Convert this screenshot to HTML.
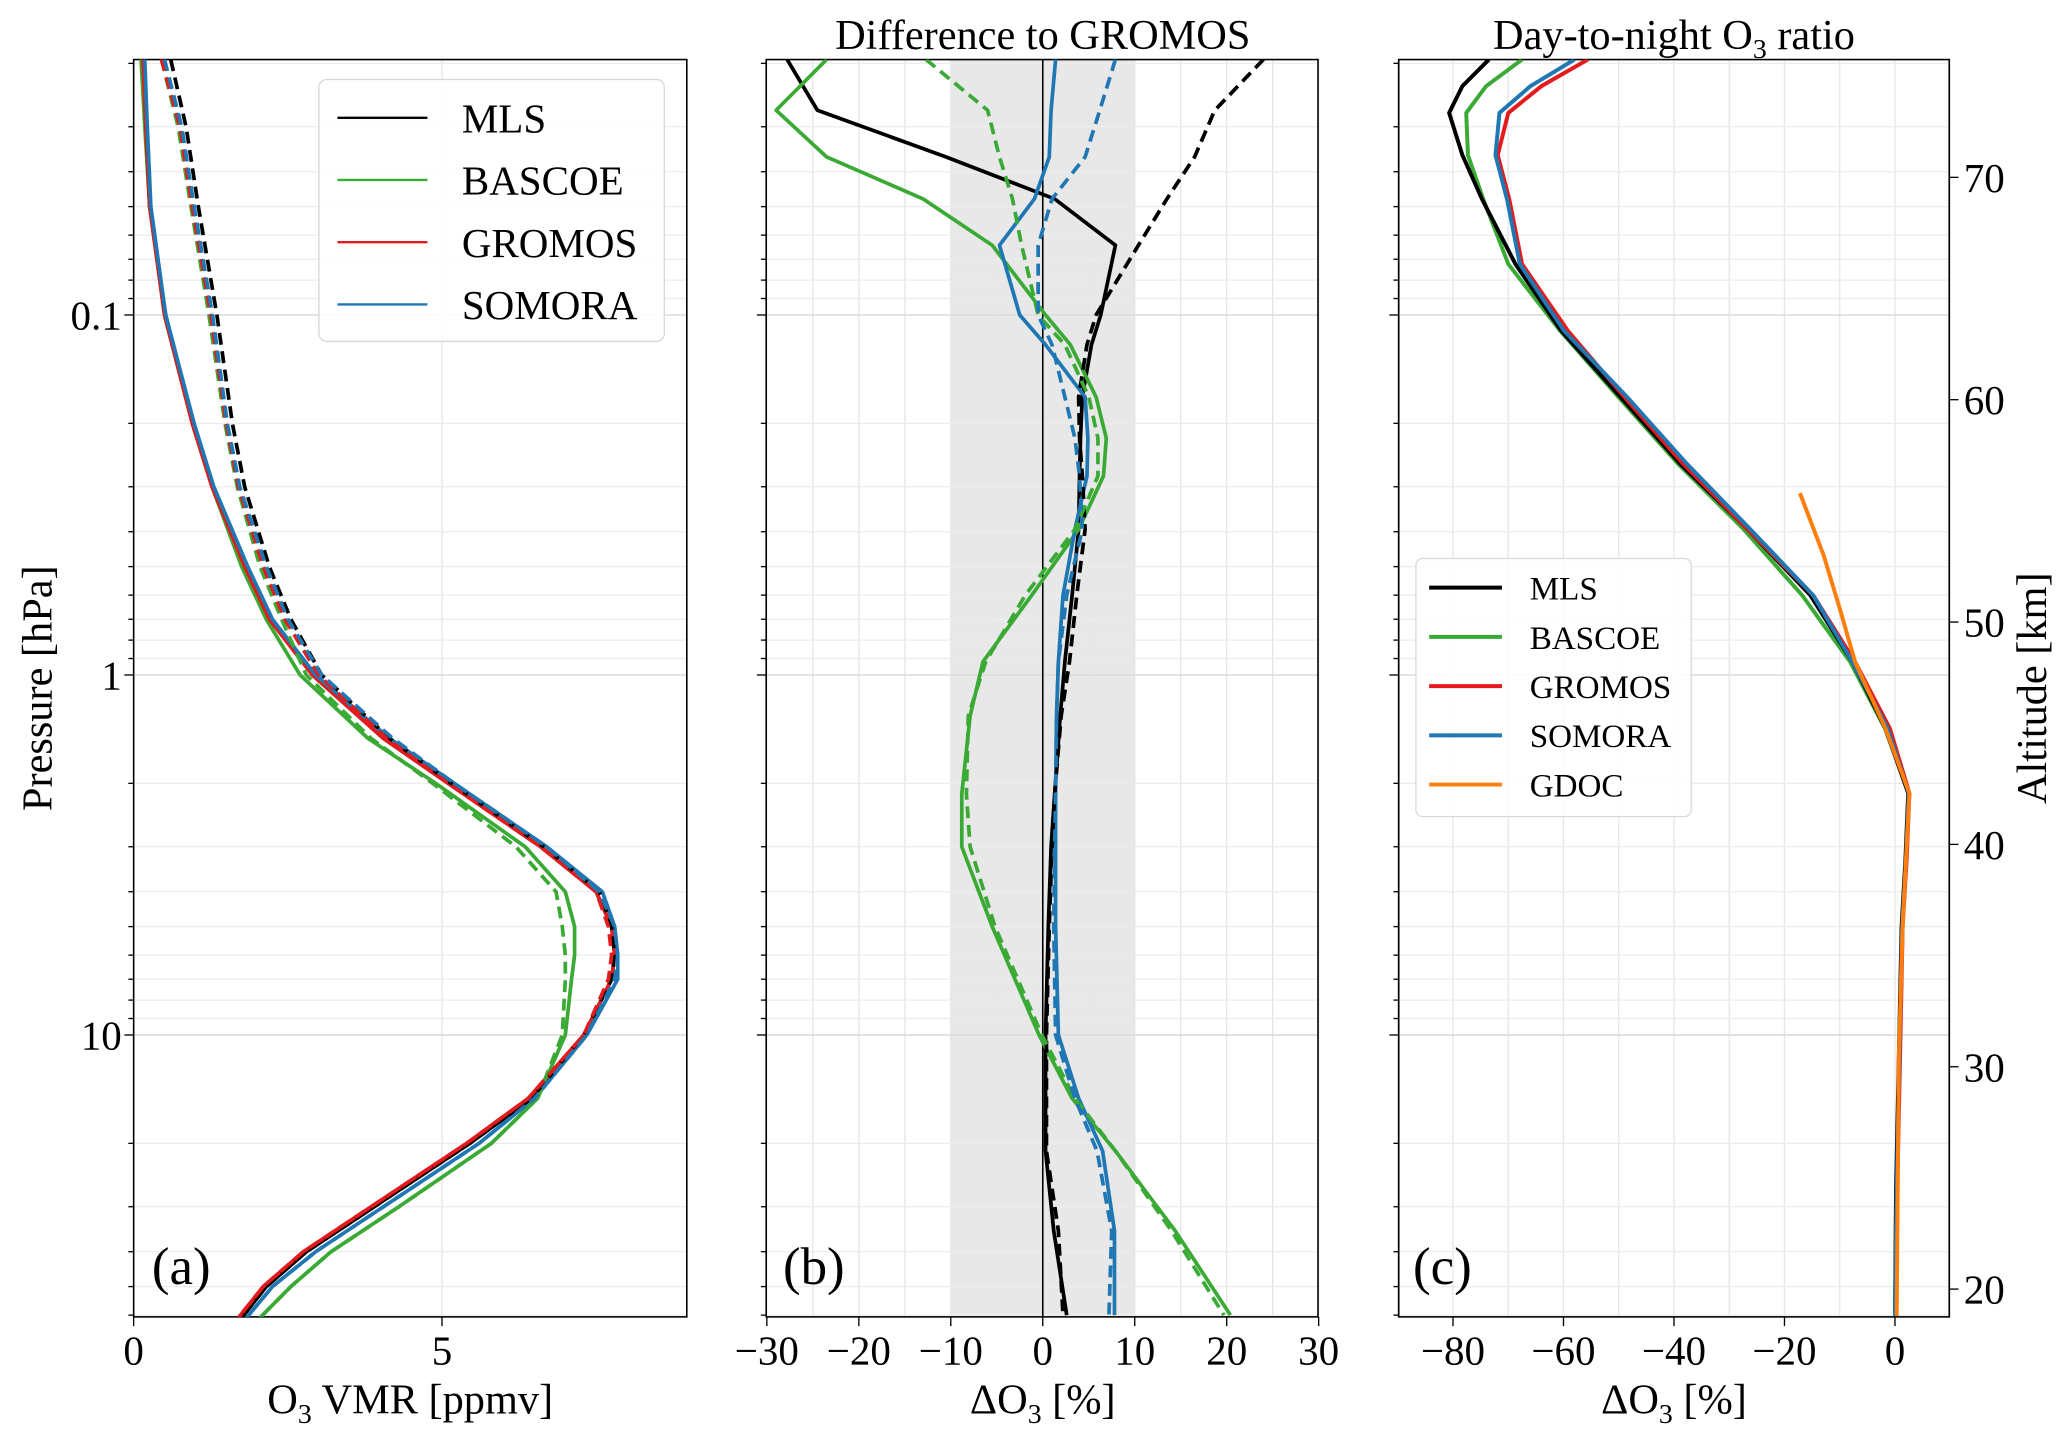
<!DOCTYPE html>
<html><head><meta charset="utf-8">
<style>
html,body{margin:0;padding:0;background:#fff;}
svg{display:block;font-family:"Liberation Serif",serif;}
</style></head>
<body>
<svg id="fig" width="2067" height="1436" viewBox="0 0 1562 1085" preserveAspectRatio="none" xmlns="http://www.w3.org/2000/svg">
<rect width="1562" height="1085" fill="#fff"/>
</svg>
<script>
// ---------- data ----------
// Panel (a): pressure levels [hPa] and O3 VMR [ppmv]
const pA = [0.0195,0.03,0.05,0.1,0.2,0.3,0.5,0.7,1,1.5,2,3,4,5,6,7,10,15,20,30,40,50,61];
const aGromos = [0.15,0.2,0.26,0.5,0.95,1.27,1.8,2.2,2.9,4.05,5.1,6.6,7.5,7.75,7.8,7.75,7.3,6.4,5.4,3.85,2.75,2.1,1.7];
const aSomora = [0.18,0.22,0.28,0.52,0.98,1.3,1.85,2.25,2.95,4.15,5.2,6.7,7.6,7.8,7.85,7.85,7.35,6.5,5.6,4.05,2.95,2.25,1.83];
const aBascoe = [0.12,0.18,0.26,0.5,0.95,1.27,1.75,2.15,2.7,3.8,4.9,6.35,7.0,7.15,7.15,7.1,7.0,6.55,5.8,4.3,3.2,2.55,2.05];
const aMls     = [0.16,0.2,0.26,0.52,0.97,1.28,1.82,2.22,2.9,4.05,5.1,6.6,7.5,7.75,7.8,7.75,7.3,6.45,5.45,3.9,2.8,2.15,1.75];
const aGromosN = [0.45,0.75,0.95,1.25,1.5,1.7,2.1,2.45,3.0,4.1,5.1,6.6,7.5,7.7,7.75,7.7,7.3,6.4,5.4,3.85,2.75,2.1,1.7];
const aSomoraN = [0.5,0.78,0.98,1.28,1.52,1.72,2.15,2.5,3.05,4.2,5.2,6.7,7.55,7.8,7.85,7.8,7.35,6.5,5.6,4.05,2.95,2.25,1.83];
const aBascoeN = [0.45,0.72,0.93,1.22,1.48,1.68,2.05,2.4,2.8,3.85,4.85,6.2,6.85,6.95,7.0,7.0,6.95,6.55,5.8,4.3,3.2,2.55,2.05];
const aMlsN    = [0.6,0.85,1.05,1.35,1.6,1.8,2.2,2.55,3.05,4.15,5.15,6.65,7.55,7.75,7.8,7.75,7.3,6.45,5.45,3.9,2.8,2.15,1.75];
// Panel (b): pressure levels and differences [%]
const pB = [0.0195,0.027,0.0364,0.0476,0.064,0.1,0.121,0.169,0.22,0.28,0.394,0.6,0.919,1.3,2.14,3.0,5.0,10,15,21,35,60];
const bMls     = [-27.8,-24.5,-10.5,1.3,7.9,6.3,5.3,4.3,4.1,4.0,3.9,3.2,2.4,1.9,1.3,0.9,0.6,0.3,0.3,0.3,1.2,2.6];
const bMlsN    = [24,18.7,16.5,13.5,10.4,5.8,4.8,3.9,4.0,4.3,4.6,3.7,2.9,2.0,1.3,1.0,0.7,0.4,0.4,0.4,1.7,2.2];
const bBascoe  = [-23.5,-29,-23.5,-13,-5.5,0.3,3.0,5.8,6.9,6.6,3.9,-1.2,-6.5,-7.9,-8.8,-8.8,-5.5,-0.4,3.2,7.9,14.4,20.4];
const bBascoeN = [-12.7,-6,-4.7,-3.3,-2.3,-0.5,2.4,5.0,6.0,6.0,3.5,-1.9,-6.2,-8.1,-8.3,-7.9,-5.2,-0.1,3.5,7.9,14,19.7];
const bSomora  = [1.4,0.9,0.7,-0.9,-4.7,-2.5,0.3,4.6,4.9,4.8,3.5,2.2,1.7,1.5,1.4,1.4,1.4,1.7,3.9,6.5,7.8,7.8];
const bSomoraN = [7.9,6.2,4.6,1.0,-0.5,-0.5,1.0,2.4,3.5,4.0,4.3,2.6,1.7,1.5,1.4,1.3,1.2,1.4,3.5,5.9,7.5,7.2];
// Panel (c): altitude [km] and day-to-night ratio [%]
const zC = [75.3,74.1,72.9,71,69,66.1,63.1,60.1,57.1,54.2,51.2,48.2,45.2,42.3,39.3,36.3,30.4,24.4,18.8];
const cMls    = [-73.5,-78.3,-80.7,-78.3,-74.7,-68.7,-60.4,-49.6,-38.8,-26.8,-15.3,-7.7,-1.7,2.4,1.9,1.2,0.7,0.2,0.0];
const cBascoe = [-67.5,-74,-77.6,-77.3,-74.5,-70,-60.6,-50,-39.2,-27.5,-16.8,-8.1,-1.8,2.5,2.0,1.3,0.8,0.3,0.1];
const cGromos = [-55.6,-64,-70,-71.9,-69.8,-67.5,-59.2,-48.9,-38.3,-26.8,-14.8,-7.2,-0.9,2.6,2.1,1.4,0.9,0.4,0.2];
const cSomora = [-58,-66,-71.6,-72.3,-70.2,-67.9,-59.9,-48.4,-37.6,-26.3,-14.8,-7.7,-1.3,2.5,2.0,1.3,0.8,0.3,0.0];
const zG = [55.8,53,50.6,48.2,45.2,42.3,36.3,30.4,18.8];
const cGdoc = [-17.2,-12.9,-10,-7.2,-1.7,2.6,1.4,0.7,0.3];
const tickA = [0,5];
const tickB = [-30,-20,-10,0,10,20,30];
const tickC = [-80,-60,-40,-20,0];
const tickP = [0.1,1,10];
const tickZ = [20,30,40,50,60,70];

// ---------- layout ----------
const svg = document.getElementById('fig');
const NS = 'http://www.w3.org/2000/svg';
const TOP = 45, BOT = 995;
const panels = {a:[101,519], b:[579,996], c:[1057,1473]};
const yP = p => 510 + 272*Math.log10(p);
const yZ = z => 974 - (z-20)*16.8;
const xA = v => 101 + v*46.6;
const xB = v => 788 + v*6.95;
const xC = v => 1432 + v*4.175;
const C = {black:'#000', green:'#3aaa35', red:'#e41a1c', blue:'#1f77b4', orange:'#ff7f0e'};

function el(tag, attrs, parent){const e=document.createElementNS(NS,tag);for(const k in attrs)e.setAttribute(k,attrs[k]);(parent||svg).appendChild(e);return e;}
function txt(s, x, y, size, anchor, parent){const t=el('text',{x:x,y:y,'font-size':size,'text-anchor':anchor||'middle',fill:'#000'},parent);t.textContent=s;return t;}

function clipFor(id,x0,x1){const d=el('clipPath',{id:id});el('rect',{x:x0,y:TOP,width:x1-x0,height:BOT-TOP},d);}
clipFor('ca',101,519);clipFor('cb',579,996);clipFor('cc',1057,1473);

// grids
function pressureGrid(x0,x1,g){
  for(let d=-2; d<=1; d++){
    for(let m=1;m<=9;m++){
      const p=m*Math.pow(10,d); const y=yP(p);
      if(y<TOP||y>BOT) continue;
      el('line',{x1:x0,x2:x1,y1:y,y2:y,stroke:m===1?'#dcdcdc':'#ececec','stroke-width':m===1?1.2:0.9},g);
      el('line',{x1:x0-(m===1?7:4),x2:x0,y1:y,y2:y,stroke:'#000','stroke-width':1},g);
    }
  }
}
function vgrid(xs, g){xs.forEach(x=>el('line',{x1:x,x2:x,y1:TOP,y2:BOT,stroke:'#e6e6e6','stroke-width':1},g));}

function linePath(xs, ys, color, dash, width, clip, name){
  let d=''; for(let i=0;i<xs.length;i++) d+=(i?'L':'M')+xs[i].toFixed(1)+' '+ys[i].toFixed(1);
  const p=el('path',{d:d,fill:'none',stroke:color,'stroke-width':width||2.6,'stroke-linejoin':'round','clip-path':'url(#'+clip+')'});
  if(dash) p.setAttribute('stroke-dasharray',dash);
  
  
  return p;
}

// ---------- Panel A ----------
const gA = el('g',{});  
vgrid(tickA.map(xA), gA); pressureGrid(101,519,gA);
[[aBascoe,C.green],[aMls,C.black],[aGromos,C.red],[aSomora,C.blue]].forEach(([v,c],i)=>linePath(v.map(xA),pA.map(yP),c,null,2.8,'ca','a-solid-'+i));
[[aBascoeN,C.green],[aMlsN,C.black],[aGromosN,C.red],[aSomoraN,C.blue]].forEach(([v,c],i)=>linePath(v.map(xA),pA.map(yP),c,'9 5',2.8,'ca','a-dashed-'+i));
el('rect',{x:101,y:TOP,width:418,height:BOT-TOP,fill:'none',stroke:'#000','stroke-width':1.2},gA);
tickA.forEach(v=>{el('line',{x1:xA(v),x2:xA(v),y1:BOT,y2:BOT+7,stroke:'#000'},gA);txt(String(v),xA(v),1031,31,'middle',gA);});
tickP.forEach(p=>txt(String(p),92,yP(p)+11,31,'end',gA));
const yl=txt('Pressure [hPa]',0,0,32,'middle',gA); yl.setAttribute('transform','translate(39,520) rotate(-90)');  
const xla=el('text',{x:310,y:1068,'font-size':32,'text-anchor':'middle'},gA); xla.innerHTML='O<tspan font-size="21" dy="7">3</tspan><tspan dy="-7"> VMR [ppmv]</tspan>';
txt('(a)',137,970,40,'middle',gA);
// legend a
const lgA=el('g',{});  
el('rect',{x:241,y:60,width:261,height:198,rx:6,fill:'#fff','fill-opacity':0.85,stroke:'#d8d8d8'},lgA);
[['MLS',C.black],['BASCOE',C.green],['GROMOS',C.red],['SOMORA',C.blue]].forEach(([n,c],i)=>{const y=89+i*47;el('line',{x1:255,x2:323,y1:y,y2:y,stroke:c,'stroke-width':1.8},lgA);txt(n,349,y+11,31,'start',lgA);});

// ---------- Panel B ----------
const gB = el('g',{});  
el('rect',{x:xB(-10),y:TOP,width:xB(10)-xB(-10),height:BOT-TOP,fill:'#e8e8e8'},gB);
vgrid([-25,-15,-5,5,15,25].map(xB), gB); vgrid(tickB.map(xB), gB); pressureGrid(579,996,gB);
el('line',{x1:xB(0),x2:xB(0),y1:TOP,y2:BOT,stroke:'#000','stroke-width':1.2},gB);
[[bMls,C.black],[bBascoe,C.green],[bSomora,C.blue]].forEach(([v,c],i)=>linePath(v.map(xB),pB.map(yP),c,null,2.8,'cb','b-solid-'+i));
[[bMlsN,C.black],[bBascoeN,C.green],[bSomoraN,C.blue]].forEach(([v,c],i)=>linePath(v.map(xB),pB.map(yP),c,'9 5',2.8,'cb','b-dashed-'+i));
el('rect',{x:579,y:TOP,width:417,height:BOT-TOP,fill:'none',stroke:'#000','stroke-width':1.2},gB);
tickB.forEach(v=>{el('line',{x1:xB(v),x2:xB(v),y1:BOT,y2:BOT+7,stroke:'#000'},gB);txt(v<0?'\u2212'+(-v):String(v),xB(v),1031,31,'middle',gB);});
const xlb=el('text',{x:788,y:1068,'font-size':32,'text-anchor':'middle'},gB); xlb.innerHTML='ΔO<tspan font-size="21" dy="7">3</tspan><tspan dy="-7"> [%]</tspan>';
const tb=txt('Difference to GROMOS',788,37,32,'middle',gB);  
txt('(b)',615,970,40,'middle',gB);

// ---------- Panel C ----------
const gC = el('g',{});  
vgrid([-90,-70,-50,-30,-10,10].map(xC), gC); vgrid(tickC.map(xC), gC); pressureGrid(1057,1473,gC);
[[cBascoe,C.green],[cMls,C.black],[cGromos,C.red],[cSomora,C.blue]].forEach(([v,c],i)=>linePath(v.map(xC),zC.map(yZ),c,null,3,'cc','c-line-'+i));
linePath(cGdoc.map(xC),zG.map(yZ),C.orange,null,3,'cc','c-line-gdoc');
el('rect',{x:1057,y:TOP,width:416,height:BOT-TOP,fill:'none',stroke:'#000','stroke-width':1.2},gC);
tickC.forEach(v=>{el('line',{x1:xC(v),x2:xC(v),y1:BOT,y2:BOT+7,stroke:'#000'},gC);txt(v<0?'\u2212'+(-v):String(v),xC(v),1031,31,'middle',gC);});
tickZ.forEach(z=>{el('line',{x1:1473,x2:1480,y1:yZ(z),y2:yZ(z),stroke:'#000'},gC);txt(String(z),1484,yZ(z)+11,31,'start',gC);});
const zl=txt('Altitude [km]',0,0,32,'middle',gC); zl.setAttribute('transform','translate(1546,520) rotate(-90)');
const xlc=el('text',{x:1265,y:1068,'font-size':32,'text-anchor':'middle'},gC); xlc.innerHTML='ΔO<tspan font-size="21" dy="7">3</tspan><tspan dy="-7"> [%]</tspan>';
const tc=el('text',{x:1265,y:37,'font-size':32,'text-anchor':'middle'},gC); tc.innerHTML='Day-to-night O<tspan font-size="21" dy="7">3</tspan><tspan dy="-7"> ratio</tspan>';
txt('(c)',1090,970,40,'middle',gC);
const lgC=el('g',{});  
el('rect',{x:1070,y:422,width:208,height:195,rx:5,fill:'#fff','fill-opacity':0.85,stroke:'#d8d8d8'},lgC);
[['MLS',C.black],['BASCOE',C.green],['GROMOS',C.red],['SOMORA',C.blue],['GDOC',C.orange]].forEach(([n,c],i)=>{const y=444+i*37.2;el('line',{x1:1080,x2:1135,y1:y,y2:y,stroke:c,'stroke-width':3},lgC);txt(n,1156,y+9,25,'start',lgC);});
</script>
</body></html>
